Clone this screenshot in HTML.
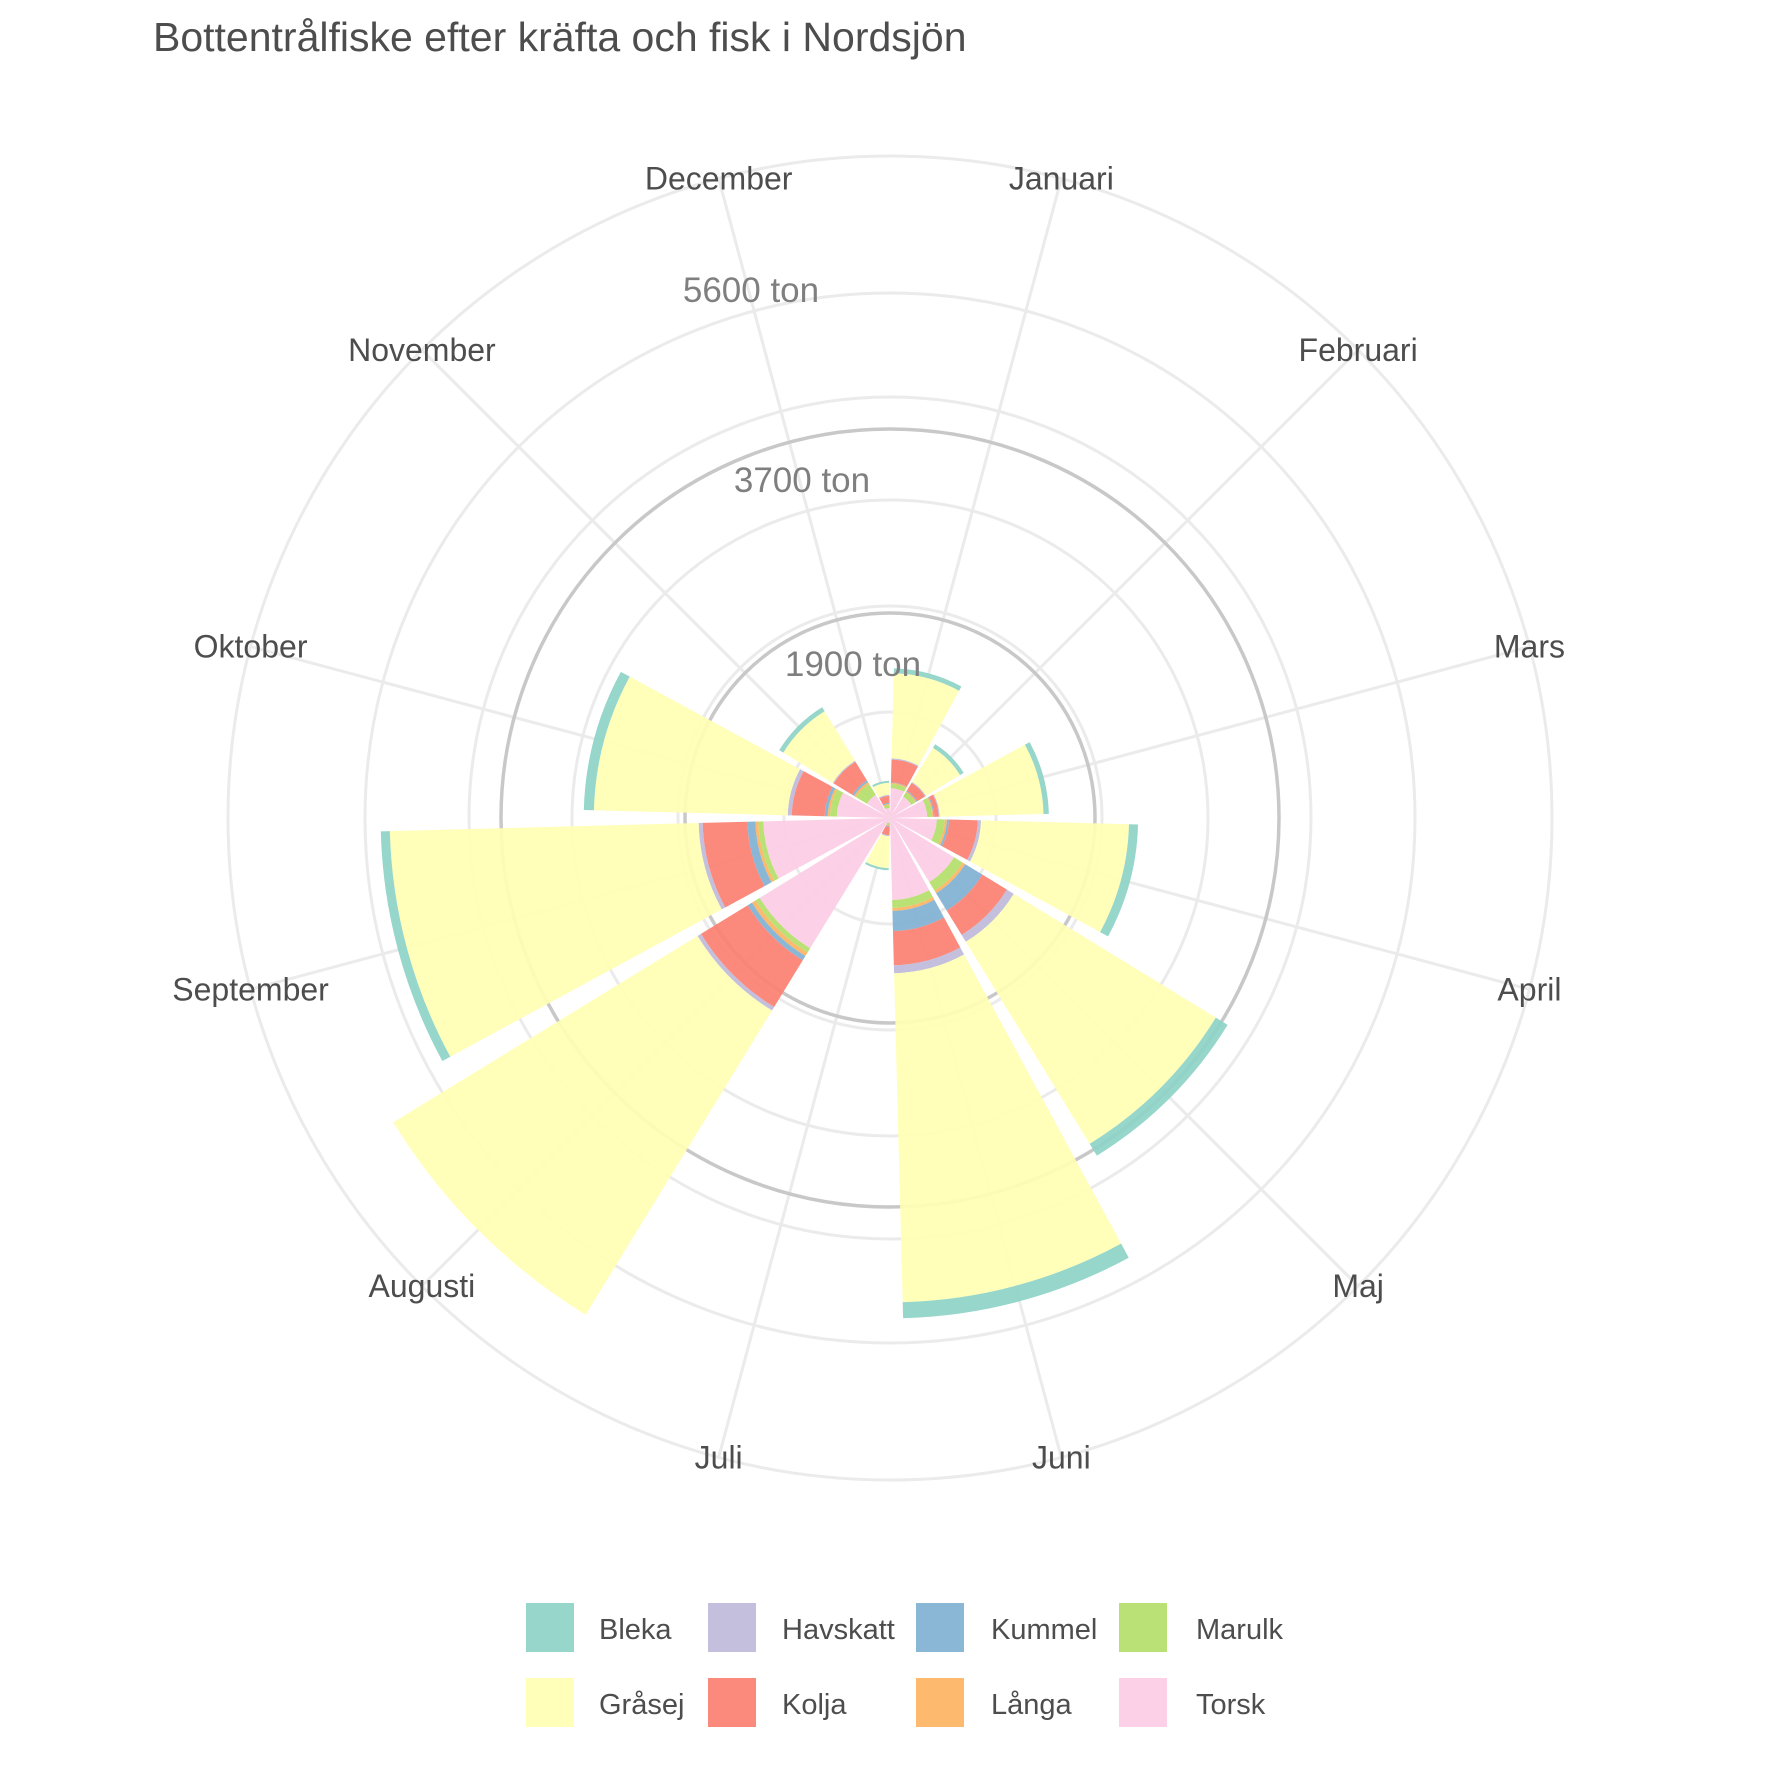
<!DOCTYPE html>
<html><head><meta charset="utf-8"><style>
html,body{margin:0;padding:0;background:#fff}
svg{display:block}
text{font-family:"Liberation Sans",Arial,sans-serif}
</style></head><body>
<svg id="chart" width="1771" height="1771" viewBox="0 0 1771 1771" xmlns="http://www.w3.org/2000/svg">
<rect width="1771" height="1771" fill="#fff"/>
<text x="153" y="51" font-size="41" fill="#4d4d4d">Bottentrålfiske efter kräfta och fisk i Nordsjön</text>
<g id="grid"></g>
<g id="bars"></g>
<g id="labels"></g>
<g id="legend"></g>
</svg>
<script>
const months = ["Januari","Februari","Mars","April","Maj","Juni","Juli","Augusti","September","Oktober","November","December"];
const species = ["Torsk","Marulk","Långa","Kummel","Kolja","Havskatt","Gråsej","Bleka"];
const torsk    = [280,235,350,440,705,770,47,1435,1190,500,255,95];
const marulk   = [40,47,47,75,95,75,20,47,47,65,120,28];
const langa    = [10,10,10,20,28,28,10,38,28,20,20,10];
const kummel   = [5,10,10,20,190,190,10,47,75,28,20,10];
const kolja    = [215,85,40,270,270,320,75,515,420,310,205,65];
const havskatt = [10,10,10,30,75,75,10,38,38,38,10,10];
const grasej   = [800,375,975,1390,2225,3090,300,3350,2900,1820,545,113];
const bleka    = [45,40,50,85,130,150,19,0,85,95,45,19];
const radialBreaks = [1900,3700,5600];
const radialLabels = ["1900 ton","3700 ton","5600 ton"];
const legendOrder = ["Bleka","Havskatt","Kummel","Marulk","Gråsej","Kolja","Långa","Torsk"];

const seriesValues = [torsk,marulk,langa,kummel,kolja,havskatt,grasej,bleka];
const colors = {"Torsk":"#FCCDE5","Marulk":"#B3DE69","Långa":"#FDB462","Kummel":"#80B1D3","Kolja":"#FB8072","Havskatt":"#BEBADA","Gråsej":"#FFFFB3","Bleka":"#8DD3C7"};
const CX=890, CY=818, K=0.1065;
const NS="http://www.w3.org/2000/svg";
function rScale(v){return v*K;}
function aScale(i){return i*30;}
function pt(r,deg){const a=deg*Math.PI/180;return [CX+r*Math.sin(a),CY-r*Math.cos(a)];}
function mk(tag,attrs,parent){const e=document.createElementNS(NS,tag);for(const k in attrs)e.setAttribute(k,attrs[k]);parent.appendChild(e);return e;}
function sector(r0,r1,a0,a1){
  const p1=pt(r1,a0),p2=pt(r1,a1),p3=pt(r0,a1),p4=pt(r0,a0);
  return `M${p1[0]},${p1[1]} A${r1},${r1} 0 0 1 ${p2[0]},${p2[1]} L${p3[0]},${p3[1]} `+(r0>0?`A${r0},${r0} 0 0 0 ${p4[0]},${p4[1]}`:'')+'Z';
}
const grid=document.getElementById('grid');
[106,212,318,421,525,662].forEach(r=>{
  const c=mk('circle',{cx:CX,cy:CY,r:r,fill:'none',stroke:'#ebebeb','stroke-width':3},grid);
  
  
});
months.forEach((m,i)=>{
  const p=pt(662,aScale(i)+15);
  const l=mk('line',{x1:CX,y1:CY,x2:p[0],y2:p[1],stroke:'#ebebeb','stroke-width':3},grid);
  
  
});
[205,389].forEach(r=>{
  const c=mk('circle',{cx:CX,cy:CY,r:r,fill:'none',stroke:'#c8c8c8','stroke-width':3.5},grid);
  
  
});
mk('circle',{cx:CX,cy:CY,r:7,fill:'#ebebeb'},grid);
const bars=document.getElementById('bars');
months.forEach((m,i)=>{
  let cum=0;
  const a0=aScale(i)+1.5,a1=aScale(i)+28.5;
  species.forEach((s,j)=>{
    const v=seriesValues[j][i];
    if(v<=0)return;
    const r0=rScale(cum),r1=rScale(cum+v);cum+=v;
    const p=mk('path',{d:sector(r0,r1,a0,a1),fill:colors[s],'fill-opacity':0.92},bars);
    
    
  });
});
const labels=document.getElementById('labels');
months.forEach((m,i)=>{
  const p=pt(662,aScale(i)+15);
  const t=mk('text',{x:p[0],y:p[1]+11,'font-size':32,fill:'#4d4d4d','text-anchor':'middle'},labels);
  t.textContent=m;
  
  
});
const labPos=[[853,676],[802,492],[751,302]];
radialBreaks.forEach((b,i)=>{
  const t=mk('text',{x:labPos[i][0],y:labPos[i][1],'font-size':35,fill:'#7f7f7f','text-anchor':'middle'},labels);
  t.textContent=radialLabels[i];
  
  
});
const legend=document.getElementById('legend');
const kx=[526,708,916,1119], tx=[599,782,991,1196], ky=[1603,1678];
legendOrder.forEach((s,i)=>{
  const col=i%4,row=Math.floor(i/4);
  const g=mk('g',{},legend);
  
  
  mk('rect',{x:kx[col],y:ky[row],width:48,height:49,fill:colors[s],'fill-opacity':0.92},g);
  const t=mk('text',{x:tx[col],y:ky[row]+36,'font-size':29,fill:'#4d4d4d'},g);
  t.textContent=s;
});
</script>
</body></html>
